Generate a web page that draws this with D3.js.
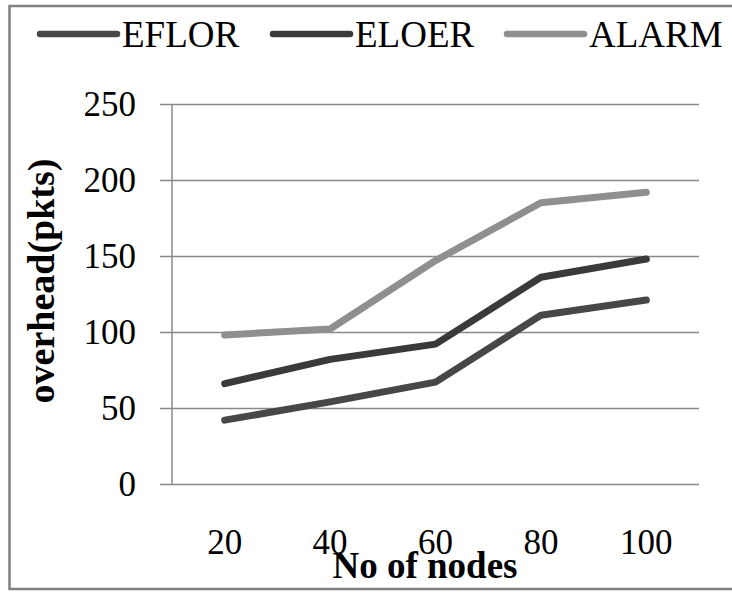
<!DOCTYPE html>
<html lang="en">
<head>
    <meta charset="UTF-8">
    <title>Overhead vs nodes</title>
    <style>
        body { margin: 0; background: #fff; }
        text { font-family: "Liberation Serif", "DejaVu Serif", serif; fill: #000; }
    </style>
</head>
<body>
<div id="chart"></div>
<script src="https://d3js.org/d3.v7.min.js"></script>
<script>
    // data
    var nodes = ["20", "40", "60", "80", "100"];
    var eflor = [42, 54, 67, 111, 121];
    var eloer = [66, 82, 92, 136, 148];
    var alarm = [98, 102, 147, 185, 192];
    var yTicks = [0, 50, 100, 150, 200, 250];
    var seriesNames = ["EFLOR", "ELOER", "ALARM"];
    var seriesColors = ["#474747", "#3a3a3a", "#8f8f8f"];

    var width = 732, height = 592;
    var plot = {left: 172, right: 699, top: 104, bottom: 484};

    var svg = d3.select("#chart").append("svg")
        .attr("width", width)
        .attr("height", height);

    // frame (right side runs off the picture)
    svg.append("path")
        .attr("d", "M760,6 H9.5 V589 H760")
        .attr("fill", "none")
        .attr("stroke", "#808080")
        .attr("stroke-width", 2.5);

    var x = d3.scaleBand().domain(nodes).range([plot.left, plot.right]);
    var y = d3.scaleLinear().domain([0, 250]).range([plot.bottom, plot.top]);

    // horizontal grid + y tick labels
    var yAxis = d3.axisLeft(y)
        .tickValues(yTicks)
        .tickSize(-(plot.right - plot.left) - 12)
        .tickPadding(24 - 12)
        .tickFormat(d3.format("d"));

    var gy = svg.append("g")
        .attr("transform", "translate(" + plot.right + ",0)")
        .call(yAxis);
    gy.select(".domain").remove();
    gy.selectAll(".tick line")
        .attr("transform", "translate(" + (-(plot.right - plot.left) - 12) + ",0)")
        .attr("x2", plot.right - plot.left + 12)
        .attr("stroke", "#888")
        .attr("stroke-width", 1.5);
    gy.selectAll(".tick text")
        .attr("x", -(plot.right - 136))
        .attr("dy", "0.33em")
        .style("font-size", "35px")
        .style("font-family", "'Liberation Serif', serif");

    // vertical axis line
    svg.append("line")
        .attr("x1", plot.left).attr("x2", plot.left)
        .attr("y1", plot.top).attr("y2", plot.bottom)
        .attr("stroke", "#888")
        .attr("stroke-width", 1.5);

    // x labels
    var xAxis = d3.axisBottom(x).tickSize(0).tickPadding(0);
    var gx = svg.append("g")
        .attr("transform", "translate(0," + plot.bottom + ")")
        .call(xAxis);
    gx.select(".domain").remove();
    gx.selectAll(".tick text")
        .attr("y", 70)
        .attr("dy", 0)
        .style("font-size", "35px")
        .style("font-family", "'Liberation Serif', serif");

    // lines
    var line = d3.line()
        .x(function (d, i) { return x(nodes[i]) + x.bandwidth() / 2; })
        .y(function (d) { return y(d); });

    var allSeries = [eflor, eloer, alarm];
    svg.selectAll(".series")
        .data(allSeries)
        .enter()
        .append("path")
        .attr("class", "series")
        .attr("d", line)
        .attr("fill", "none")
        .attr("stroke", function (d, i) { return seriesColors[i]; })
        .attr("stroke-width", 7)
        .attr("stroke-linecap", "round")
        .attr("stroke-linejoin", "round");

    // legend
    var legendX = [40, 273, 507];
    var lg = svg.selectAll(".legend")
        .data(seriesNames)
        .enter()
        .append("g")
        .attr("class", "legend")
        .attr("transform", function (d, i) { return "translate(" + legendX[i] + ",34)"; });
    lg.append("line")
        .attr("x1", 0).attr("x2", 77)
        .attr("stroke", function (d, i) { return seriesColors[i]; })
        .attr("stroke-width", 6.5)
        .attr("stroke-linecap", "round");
    lg.append("text")
        .attr("x", 82)
        .attr("y", 13)
        .style("font-size", "37px")
        .text(function (d) { return d; });

    // axis titles
    svg.append("text")
        .attr("x", 425)
        .attr("y", 578)
        .attr("text-anchor", "middle")
        .style("font-size", "37px")
        .style("font-weight", "bold")
        .text("No of nodes");

    svg.append("text")
        .attr("transform", "translate(54,281) rotate(-90)")
        .attr("text-anchor", "middle")
        .style("font-size", "38px")
        .style("font-weight", "bold")
        .text("overhead(pkts)");
</script>
</body>
</html>
